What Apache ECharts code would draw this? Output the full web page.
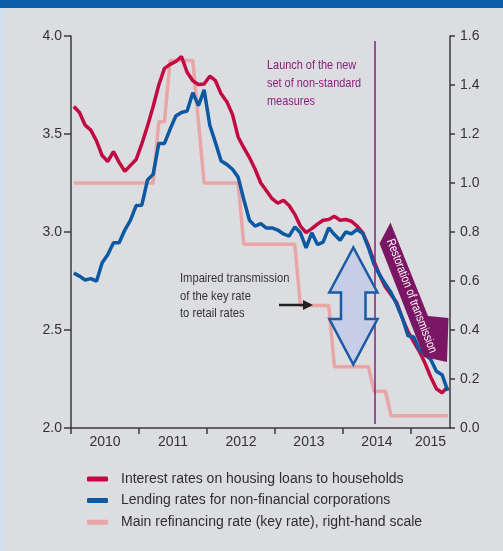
<!DOCTYPE html>
<html>
<head>
<meta charset="utf-8">
<script src="https://cdn.jsdelivr.net/npm/echarts@6/dist/echarts.min.js"></script>
<style>
  html, body { margin: 0; padding: 0; background: #dcdde0; }
  #chart { width: 503px; height: 551px; }
</style>
</head>
<body>
<div id="chart"></div>
<script>
// Monthly observations, January 2010 to July 2015 (percentages per annum)
const firstYear = 2010;
const yearTicks = [0, 12, 24, 36, 48, 60];          // month offsets of each January
const yearLabelPos = [6, 18, 30, 42, 54, 63.45];     // centre of each (partial) year

const housingLoans = [
  3.64, 3.61, 3.545, 3.52, 3.465, 3.39, 3.36, 3.41, 3.355, 3.31,
  3.34, 3.37, 3.45, 3.54, 3.64, 3.75, 3.835, 3.855, 3.87, 3.895,
  3.815, 3.772, 3.752, 3.755, 3.795, 3.772, 3.705, 3.665, 3.6, 3.485,
  3.43, 3.38, 3.32, 3.25, 3.21, 3.17, 3.147, 3.162, 3.135, 3.09,
  3.03, 2.997, 3.017, 3.04, 3.06, 3.064, 3.08, 3.06, 3.064, 3.055,
  3.03, 2.997, 2.93, 2.85, 2.78, 2.72, 2.68, 2.64, 2.56, 2.49,
  2.44, 2.39, 2.33, 2.26, 2.2, 2.18, 2.21
];

const corporateLending = [
  2.79, 2.775, 2.755, 2.762, 2.749, 2.843, 2.885, 2.945, 2.945, 3.01,
  3.06, 3.135, 3.137, 3.265, 3.294, 3.452, 3.452, 3.525, 3.592, 3.61,
  3.617, 3.711, 3.645, 3.725, 3.545, 3.456, 3.362, 3.345, 3.32, 3.28,
  3.166, 3.06, 3.03, 3.043, 3.02, 3.021, 3.01, 2.99, 2.979, 3.026,
  2.996, 2.919, 2.996, 2.936, 2.948, 3.021, 2.987, 2.958, 3.0, 2.99,
  3.013, 2.993, 2.92, 2.835, 2.78, 2.735, 2.69, 2.63, 2.56, 2.47,
  2.465, 2.4, 2.374, 2.35, 2.29, 2.272, 2.19
];

const keyRate = [
  1.0, 1.0, 1.0, 1.0, 1.0, 1.0, 1.0, 1.0, 1.0, 1.0,
  1.0, 1.0, 1.0, 1.0, 1.0, 1.25, 1.25, 1.5, 1.5, 1.5,
  1.5, 1.5, 1.25, 1.0, 1.0, 1.0, 1.0, 1.0, 1.0, 1.0,
  0.75, 0.75, 0.75, 0.75, 0.75, 0.75, 0.75, 0.75, 0.75, 0.75,
  0.5, 0.5, 0.5, 0.5, 0.5, 0.5, 0.25, 0.25, 0.25, 0.25,
  0.25, 0.25, 0.25, 0.15, 0.15, 0.15, 0.05, 0.05, 0.05, 0.05,
  0.05, 0.05, 0.05, 0.05, 0.05, 0.05, 0.05
];

const seriesNames = [
  'Interest rates on housing loans to households',
  'Lending rates for non-financial corporations',
  'Main refinancing rate (key rate), right-hand scale'
];

// Launch of the new set of non-standard measures (June 2014)
const launchMonth = 53.7;

// each observation is plotted at the middle of its month
const toPoints = arr => arr.map((v, i) => [i + 0.5, v]);

const axisColor = '#3a3a3a';
const labelFont = 'Liberation Sans, Arial, sans-serif';
const noteFont = '"Liberation Sans", Arial, sans-serif';

const chart = echarts.init(document.getElementById('chart'), null, { renderer: 'canvas' });

chart.setOption({
  backgroundColor: '#dcdde0',
  animation: false,
  grid: { left: 71, right: 53, top: 36, bottom: 123, containLabel: false },
  legend: {
    data: seriesNames,
    orient: 'vertical',
    left: 87,
    top: 471,
    padding: 0,
    itemWidth: 21,
    itemHeight: 5,
    itemGap: 5.6,
    icon: 'roundRect',
    textStyle: { fontFamily: labelFont, fontSize: 14, color: '#2e2e2e', lineHeight: 16, padding: [0, 0, 0, 8] }
  },
  xAxis: {
    type: 'value',
    min: 0,
    max: 66.9,
    axisLine: { show: true, lineStyle: { color: axisColor, width: 1.5 } },
    axisTick: { show: true, customValues: yearTicks, length: 6, inside: false, lineStyle: { color: axisColor, width: 1.5 } },
    axisLabel: {
      customValues: yearLabelPos,
      formatter: v => String(firstYear + Math.floor(v / 12)),
      fontFamily: labelFont, fontSize: 14, color: '#333', margin: 7
    },
    splitLine: { show: false }
  },
  yAxis: [
    {
      type: 'value', min: 2, max: 4, interval: 0.5, position: 'left',
      axisLine: { show: true, lineStyle: { color: axisColor, width: 1.5 } },
      axisTick: { show: true, length: 7, lineStyle: { color: axisColor, width: 1.5 } },
      axisLabel: { formatter: v => v.toFixed(1), fontFamily: labelFont, fontSize: 14, color: '#333', margin: 9 },
      splitLine: { show: false }
    },
    {
      type: 'value', min: 0, max: 1.6, interval: 0.2, position: 'right',
      axisLine: { show: true, lineStyle: { color: axisColor, width: 1.5 } },
      axisTick: { show: true, length: 5, lineStyle: { color: axisColor, width: 1.5 } },
      axisLabel: { formatter: v => v.toFixed(1), fontFamily: labelFont, fontSize: 14, color: '#333', margin: 10 },
      splitLine: { show: false }
    }
  ],
  series: [
    {
      name: seriesNames[2], type: 'line', yAxisIndex: 1, data: toPoints(keyRate),
      showSymbol: false, color: '#e8a6a7', lineStyle: { width: 3.5, color: '#e8a6a7' }, z: 2
    },
    {
      name: seriesNames[0], type: 'line', yAxisIndex: 0, data: toPoints(housingLoans),
      showSymbol: false, color: '#c20a42', lineStyle: { width: 3.5, color: '#c20a42' }, z: 3
    },
    {
      name: seriesNames[1], type: 'line', yAxisIndex: 0, data: toPoints(corporateLending),
      showSymbol: false, color: '#0b58a3', lineStyle: { width: 3.5, color: '#0b58a3' }, z: 4,
      markLine: {
        silent: true, symbol: 'none', label: { show: false },
        lineStyle: { color: '#8a1e7c', width: 1.5, type: 'solid' },
        data: [[{ coord: [launchMonth, 3.975] }, { coord: [launchMonth, 2.02] }]]
      }
    }
  ],
  graphic: [
    // header band and side strip of the page frame
    { type: 'rect', shape: { x: 0, y: 0, width: 503, height: 8 }, style: { fill: '#0a5fa8' }, z: 100 },
    { type: 'rect', shape: { x: 0, y: 8, width: 4, height: 543 }, style: { fill: '#cfdff2' }, z: 100 },

    // launch annotation (condensed lettering)
    {
      type: 'text', x: 267, y: 83, scaleX: 0.84, z: 100,
      style: { text: 'Launch of the new\nset of non-standard\nmeasures', fill: '#8a1e7c', font: '13px ' + noteFont, lineHeight: 18, verticalAlign: 'middle' }
    },

    // impaired transmission annotation
    {
      type: 'text', x: 180, y: 296, scaleX: 0.86, z: 100,
      style: { text: 'Impaired transmission\nof the key rate\nto retail rates', fill: '#333', font: '13px ' + noteFont, lineHeight: 17.5, verticalAlign: 'middle' }
    },
    { type: 'line', shape: { x1: 279, y1: 305, x2: 305, y2: 305 }, style: { stroke: '#222', lineWidth: 2.5 }, z: 100 },
    { type: 'polygon', shape: { points: [[303, 300], [313, 305], [303, 310]] }, style: { fill: '#222' }, z: 100 },

    // double-headed gap arrow
    {
      type: 'polygon', z: 100,
      shape: { points: [[353.3, 247.5], [329.3, 292.5], [341, 292.5], [341, 319], [329.3, 319], [353.3, 364.5],
                        [377.5, 319], [365.5, 319], [365.5, 292.5], [377.5, 292.5]] },
      style: { fill: '#c6cde6', stroke: '#1d5aa6', lineWidth: 2.5, lineJoin: 'miter' }
    },

    // restoration of transmission arrow
    {
      type: 'polygon', z: 100,
      shape: { points: [[379.5, 243.5], [390.5, 222.5], [428, 316], [448.5, 318], [447, 362], [424, 357]] },
      style: { fill: '#7b1664' }
    },
    {
      type: 'text', x: 411.5, y: 296, rotation: -69 * Math.PI / 180, scaleX: 0.8, z: 101,
      style: { text: 'Restoration of transmission', fill: '#ffffff', font: '12.5px ' + noteFont, align: 'center', verticalAlign: 'middle' }
    }
  ]
});
</script>
</body>
</html>
